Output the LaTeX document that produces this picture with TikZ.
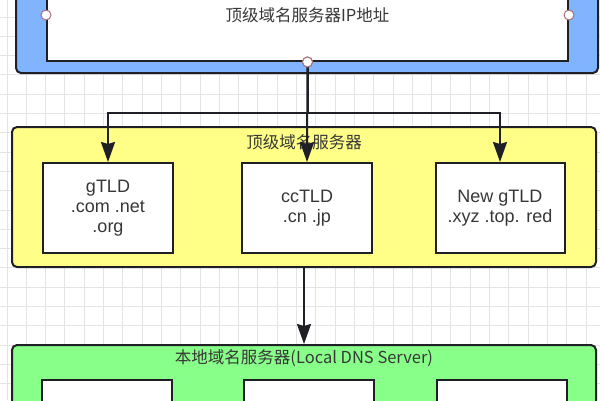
\documentclass[tikz,border=0pt]{standalone}
\usepackage{fontspec}
\setmainfont{Liberation Sans}
\newfontfamily\cjk{Noto Sans CJK SC}
\usetikzlibrary{arrows.meta}
\definecolor{ipblue}{RGB}{128,180,255}
\definecolor{tldyellow}{RGB}{255,255,136}
\definecolor{dnsgreen}{RGB}{136,255,136}
\definecolor{edgedark}{RGB}{30,32,38}
\definecolor{txtgray}{RGB}{55,55,55}
\definecolor{pinpink}{RGB}{170,110,120}
\definecolor{gridgray}{RGB}{228,228,228}
\tikzset{
  gridline/.style={gridgray, line width=1pt},
  group/.style={draw=edgedark, line width=2pt, rounded corners=5pt, inner sep=0pt},
  whitebox/.style={draw=edgedark, line width=2pt, fill=white, text=txtgray,
    align=center, font=\fontsize{18}{20}\selectfont, inner sep=0pt},
  grouptitle/.style={text=txtgray, font=\cjk\fontsize{16.5}{20}\selectfont, inner sep=0pt},
  pin/.style={circle, draw=pinpink, fill=white, line width=1pt, minimum size=10pt, inner sep=0pt},
  link/.style={edgedark, line width=2pt, -{Stealth[length=20pt, width=14pt, inset=2pt]}}
}

\begin{document}
\begin{tikzpicture}[x=1pt, y=-1pt]
  %%%%% START %%%%%
  \useasboundingbox (0,0) rectangle (600,400);
  \clip (0,0) rectangle (600,400);
  \fill[white] (0,0) rectangle (600,400);

  % background grid
  \foreach \gx in {7,26.3,...,600}
    \draw[gridline] (\gx,0) -- (\gx,400);
  \foreach \gy in {-2.3,17,...,400}
    \draw[gridline] (0,\gy) -- (600,\gy);

  % top level server address
  \node[group, fill=ipblue, minimum width=582pt, minimum height=113pt] (ipgroup) at (307,16.5) {};
  \node[whitebox, minimum width=521pt, minimum height=92pt, font=\cjk\fontsize{16.5}{20}\selectfont] (ip) at (307.5,15) {顶级域名服务器IP地址};
  \node[pin] (ipw) at (ip.west) {};
  \node[pin] (ipe) at (ip.east) {};
  \node[pin] (ips) at (ip.south) {};

  % top level domain servers
  \node[group, fill=tldyellow, minimum width=584pt, minimum height=140pt] (tld) at (304,197) {};
  \node[grouptitle] (tldtitle) at (304,142) {顶级域名服务器};
  \node[whitebox, minimum width=130pt, minimum height=90pt] (gtld) at (108,208) {gTLD\\.com .net\\.org};
  \node[whitebox, minimum width=130pt, minimum height=90pt] (cctld) at (307,208) {ccTLD\\.cn .jp};
  \node[whitebox, minimum width=129pt, minimum height=90pt] (newgtld) at (500,208) {New gTLD\\.xyz .top. red};

  % local dns server
  \node[group, fill=dnsgreen, minimum width=584pt, minimum height=100pt] (local) at (304,395) {};
  \node[grouptitle] (localtitle) at (304,358) {本地域名服务器(Local DNS Server)};
  \node[whitebox, minimum width=130pt, minimum height=90pt] (loca) at (107,425) {};
  \node[whitebox, minimum width=130pt, minimum height=90pt] (locb) at (309,425) {};
  \node[whitebox, minimum width=130pt, minimum height=90pt] (locc) at (502,425) {};

  % connectors
  \draw[link] (ips.center) -- (cctld.north);
  \draw[link] (ips.center) -- ++(0,51) -| (gtld.north);
  \draw[link] (ips.center) -- ++(0,51) -| (newgtld.north);
  \draw[link] (tld.south) -- (local.north);
  \node[pin] at (ip.south) {};

  %%%%% END %%%%%
\end{tikzpicture}
\end{document}
